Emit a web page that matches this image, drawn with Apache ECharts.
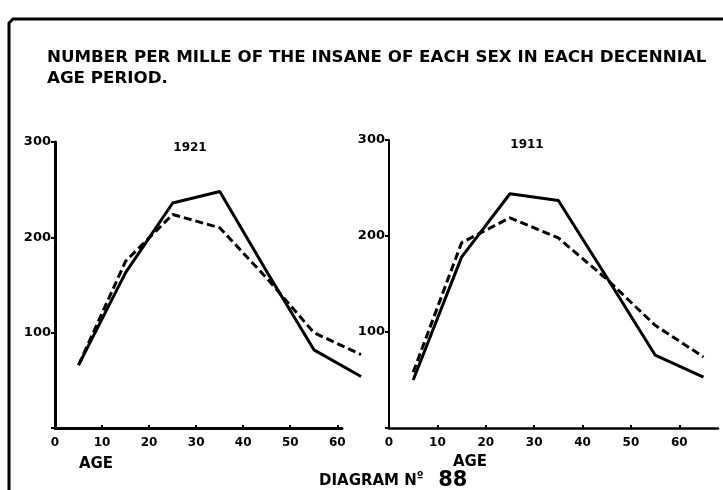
<!DOCTYPE html>
<html>
<head>
<meta charset="utf-8">
<script src="https://cdn.jsdelivr.net/npm/echarts@6/dist/echarts.min.js"></script>
<style>
html,body{margin:0;padding:0;background:#fff;}
#chart{width:723px;height:490px;}
</style>
</head>
<body>
<div id="chart"></div>
<script>
// Age mid-points of each decennial period
var ages = [5, 15, 25, 35, 45, 55, 65];
// 1921 panel (number per mille)
var solid1921  = [66, 163, 236, 248, 164, 82, 54];
var dashed1921 = [66, 175, 224, 210, 157, 100, 77];
// 1911 panel
var solid1911  = [50, 178, 244, 237, 157, 76, 53];
var dashed1911 = [58, 193, 219, 198, 155, 107, 74];
// tick labels
var yTicks = [100, 200, 300];
var xTicks = [0, 10, 20, 30, 40, 50, 60];
var panelYears = ['1921', '1911'];
var titleLine1 = 'NUMBER PER MILLE OF THE INSANE OF EACH SEX IN EACH DECENNIAL';
var titleLine2 = 'AGE PERIOD.';

function pairs(xs, ys){ return xs.map(function(x,i){ return [x, ys[i]]; }); }

var FONT = '"DejaVu Sans", sans-serif';
var chart = echarts.init(document.getElementById('chart'));

function xAxisCfg(idx, max, lw, hidden){
  return {
    type:'value', gridIndex: idx, min:0, max:max, interval:10, show: !hidden,
    axisLine:{show:true, onZero:false, lineStyle:{color:'#000', width:lw}},
    axisTick:{show:true, inside:true, length:3, lineStyle:{color:'#000', width:2}},
    splitLine:{show:false},
    axisLabel:{color:'#000', fontFamily:FONT, fontWeight:'bold', fontSize:12, margin:9,
      showMaxLabel:false,
      formatter:function(v){ return xTicks.indexOf(v) >= 0 ? String(v) : ''; }}
  };
}
function yAxisCfg(idx, lw, hidden){
  return {
    type:'value', gridIndex: idx, min:0, max:300, interval:100, show: !hidden,
    axisLine:{show:true, lineStyle:{color:'#000', width:lw}},
    axisTick:{show:true, length:4, lineStyle:{color:'#000', width:2}},
    splitLine:{show:false},
    axisLabel:{color:'#000', fontFamily:FONT, fontWeight:'bold', fontSize:13, margin:4,
      formatter:function(v){ return yTicks.indexOf(v) >= 0 ? String(v) : ''; }}
  };
}
function lineSeries(xi, data, dashed){
  return {
    type:'line', xAxisIndex:xi, yAxisIndex:xi, data:data, symbol:'none', clip:false,
    lineStyle:{color:'#000', width:3, type: dashed ? [8,4] : 'solid'},
    silent:true, animation:false
  };
}

// left panel: visible axis ends at 61, lines run on to age 65 on the same scale
var leftVisibleMax = 61, leftDataMax = 65;
var leftW = 287, leftDataW = Math.round(leftW * leftDataMax / leftVisibleMax);

chart.setOption({
  animation:false,
  backgroundColor:'#fff',
  grid:[
    {left:55, top:142, width:leftW, height:286},       // visible axes 1921
    {left:389, top:140, width:329, height:288},        // 1911
    {left:55, top:142, width:leftDataW, height:286}    // 1921 lines (same scale)
  ],
  xAxis:[ xAxisCfg(0, leftVisibleMax, 3), xAxisCfg(1, 68, 2.5), xAxisCfg(2, leftDataMax, 1, true) ],
  yAxis:[ yAxisCfg(0, 3), yAxisCfg(1, 2), yAxisCfg(2, 1, true) ],
  series:[
    lineSeries(2, pairs(ages, solid1921), false),
    lineSeries(2, pairs(ages, dashed1921), true),
    lineSeries(1, pairs(ages, solid1911), false),
    lineSeries(1, pairs(ages, dashed1911), true)
  ],
  graphic:[
    {type:'polyline', shape:{points:[[9,490],[9,23],[13,19],[723,19]]},
      style:{stroke:'#000', lineWidth:3, fill:null}},
    {type:'text', style:{x:47, y:58, text:titleLine1, font:'bold 16.7px '+FONT, fill:'#000', textVerticalAlign:'middle'}},
    {type:'text', style:{x:47, y:79, text:titleLine2, font:'bold 16.7px '+FONT, fill:'#000', textVerticalAlign:'middle'}},
    {type:'text', style:{x:190, y:148, text:panelYears[0], font:'bold 12px '+FONT, fill:'#000', textAlign:'center', textVerticalAlign:'middle'}},
    {type:'text', style:{x:527, y:145, text:panelYears[1], font:'bold 12px '+FONT, fill:'#000', textAlign:'center', textVerticalAlign:'middle'}},
    {type:'text', style:{x:96, y:464, text:'AGE', font:'bold 15px '+FONT, fill:'#000', textAlign:'center', textVerticalAlign:'middle'}},
    {type:'text', style:{x:470, y:462, text:'AGE', font:'bold 15px '+FONT, fill:'#000', textAlign:'center', textVerticalAlign:'middle'}},
    {type:'text', style:{x:319, y:481, text:'{a|DIAGRAM N}{b|º}{c|  88}', fill:'#000', textVerticalAlign:'middle',
      rich:{
        a:{font:'bold 15px '+FONT, fill:'#000'},
        b:{font:'bold 12px '+FONT, fill:'#000', verticalAlign:'top'},
        c:{font:'bold 21px '+FONT, fill:'#000'}
      }}}
  ]
});
</script>
</body>
</html>
